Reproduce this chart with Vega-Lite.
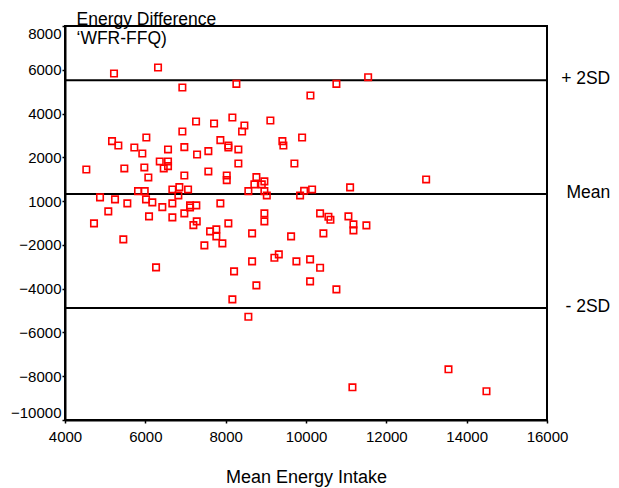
{
  "$schema": "https://vega.github.io/schema/vega-lite/v6.json",
  "width": 482,
  "height": 394,
  "autosize": "none",
  "padding": {"left": 65, "top": 26, "right": 72, "bottom": 68},
  "background": "white",
  "config": {
    "font": "Liberation Sans",
    "view": {"stroke": "black", "strokeWidth": 2},
    "axis": {
      "domainColor": "black", "domainWidth": 2, "tickColor": "black", "tickWidth": 1.5, "tickSize": 3,
      "labelColor": "black", "labelFontSize": 15, "titleColor": "black", "titleFontWeight": "normal",
      "grid": false, "labelFont": "Liberation Sans", "titleFont": "Liberation Sans"
    }
  },
  "datasets": {
    "points": [
      {"mean": 5220, "diff": 5831}, {"mean": 6316, "diff": 6105}, {"mean": 6922, "diff": 5191}, {"mean": 8267, "diff": 5356},
      {"mean": 7263, "diff": 3639}, {"mean": 7711, "diff": 3548}, {"mean": 8167, "diff": 3822}, {"mean": 8466, "diff": 3456},
      {"mean": 8409, "diff": 3183}, {"mean": 9113, "diff": 3685}, {"mean": 6922, "diff": 3183}, {"mean": 6025, "diff": 2909},
      {"mean": 5171, "diff": 2740}, {"mean": 5328, "diff": 2543}, {"mean": 5726, "diff": 2452}, {"mean": 5925, "diff": 2178},
      {"mean": 6565, "diff": 2361}, {"mean": 6971, "diff": 2466}, {"mean": 7288, "diff": 2132}, {"mean": 7569, "diff": 2283},
      {"mean": 7868, "diff": 2785}, {"mean": 8067, "diff": 2543}, {"mean": 8067, "diff": 2452}, {"mean": 8316, "diff": 2361},
      {"mean": 9412, "diff": 2740}, {"mean": 9437, "diff": 2543}, {"mean": 9903, "diff": 2909}, {"mean": 4531, "diff": 1447},
      {"mean": 5477, "diff": 1493}, {"mean": 5975, "diff": 1539}, {"mean": 6075, "diff": 1082}, {"mean": 6359, "diff": 1813},
      {"mean": 6565, "diff": 1813}, {"mean": 6565, "diff": 1598}, {"mean": 6458, "diff": 1493}, {"mean": 6971, "diff": 1173},
      {"mean": 7569, "diff": 1356}, {"mean": 8316, "diff": 1721}, {"mean": 8027, "diff": 1173}, {"mean": 8027, "diff": 959},
      {"mean": 8765, "diff": 1096}, {"mean": 8715, "diff": 763}, {"mean": 8899, "diff": 763}, {"mean": 8964, "diff": 900},
      {"mean": 9711, "diff": 1721}, {"mean": 5818, "diff": 457}, {"mean": 5985, "diff": 457}, {"mean": 6673, "diff": 534},
      {"mean": 6847, "diff": 639}, {"mean": 7064, "diff": 534}, {"mean": 6822, "diff": 260}, {"mean": 8565, "diff": 457},
      {"mean": 8964, "diff": 457}, {"mean": 9024, "diff": 260}, {"mean": 4872, "diff": 169}, {"mean": 5245, "diff": 78},
      {"mean": 5552, "diff": -105}, {"mean": 6017, "diff": 78}, {"mean": 6174, "diff": -59}, {"mean": 6423, "diff": -274},
      {"mean": 6673, "diff": -105}, {"mean": 7113, "diff": -196}, {"mean": 7113, "diff": -288}, {"mean": 7270, "diff": -196},
      {"mean": 7868, "diff": -105}, {"mean": 5078, "diff": -470}, {"mean": 6092, "diff": -699}, {"mean": 6673, "diff": -744},
      {"mean": 6971, "diff": -562}, {"mean": 8964, "diff": -562}, {"mean": 8964, "diff": -927}, {"mean": 4722, "diff": -1018},
      {"mean": 7280, "diff": -927}, {"mean": 7196, "diff": -1096}, {"mean": 8067, "diff": -1018}, {"mean": 7612, "diff": -1383},
      {"mean": 7768, "diff": -1292}, {"mean": 7768, "diff": -1612}, {"mean": 8658, "diff": -1475}, {"mean": 9629, "diff": -1612},
      {"mean": 5452, "diff": -1749}, {"mean": 9853, "diff": 260}, {"mean": 11547, "diff": 5662}, {"mean": 10757, "diff": 5356},
      {"mean": 10110, "diff": 4826}, {"mean": 12991, "diff": 991}, {"mean": 11098, "diff": 626}, {"mean": 9953, "diff": 470},
      {"mean": 10152, "diff": 534}, {"mean": 10351, "diff": -562}, {"mean": 10558, "diff": -717}, {"mean": 10608, "diff": -854},
      {"mean": 11056, "diff": -699}, {"mean": 11181, "diff": -1064}, {"mean": 11181, "diff": -1338}, {"mean": 11504, "diff": -1110},
      {"mean": 10433, "diff": -1475}, {"mean": 7918, "diff": -1931}, {"mean": 7470, "diff": -2023}, {"mean": 6267, "diff": -3027},
      {"mean": 8209, "diff": -3210}, {"mean": 8658, "diff": -2753}, {"mean": 9213, "diff": -2589}, {"mean": 9323, "diff": -2434},
      {"mean": 9761, "diff": -2753}, {"mean": 8765, "diff": -3849}, {"mean": 8167, "diff": -4488}, {"mean": 8565, "diff": -5283},
      {"mean": 10102, "diff": -2662}, {"mean": 10351, "diff": -3045}, {"mean": 10102, "diff": -3666}, {"mean": 10757, "diff": -4032},
      {"mean": 13547, "diff": -7685}, {"mean": 11156, "diff": -8507}, {"mean": 14493, "diff": -8689}
    ],
    "lines": [
      {"label": "+ 2SD", "value": 5525},
      {"label": "Mean", "value": 320},
      {"label": "- 2SD", "value": -4886}
    ]
  },
  "layer": [
    {
      "data": {"name": "lines"},
      "mark": {"type": "rule", "color": "black", "strokeWidth": 2},
      "encoding": {
        "y": {"field": "value", "type": "quantitative", "scale": {"domain": [-10000, 8000], "nice": false}}
      }
    },
    {
      "data": {"name": "points"},
      "mark": {"type": "point", "shape": "square", "filled": false, "color": "#ff0000", "strokeWidth": 1.6, "size": 42, "opacity": 1},
      "encoding": {
        "x": {
          "field": "mean", "type": "quantitative",
          "scale": {"domain": [4000, 16000], "nice": false, "zero": false},
          "axis": {
            "values": [4000, 6000, 8000, 10000, 12000, 14000, 16000], "format": "d",
            "labelFlush": false,
            "title": "Mean Energy Intake", "titleFontSize": 18, "titleY": 48, "titleBaseline": "top",
            "labelPadding": 6
          }
        },
        "y": {
          "field": "diff", "type": "quantitative",
          "scale": {"domain": [-10000, 8000], "nice": false, "zero": false},
          "axis": {
            "values": [-10000, -8000, -6000, -4000, -2000, 0, 2000, 4000, 6000, 8000], "format": "d",
            "labelExpr": "datum.value == 0 ? '1000' : datum.label",
            "labelFlush": true, "labelPadding": 1,
            "title": ["Energy Difference", "‘WFR-FFQ)"], "titleAngle": 0, "titleAlign": "left",
            "titleBaseline": "alphabetic", "titleX": 11, "titleY": -2, "titleFontSize": 17.5, "titleLineHeight": 19
          }
        }
      }
    },
    {
      "data": {"name": "lines"},
      "mark": {"type": "text", "align": "right", "baseline": "middle", "fontSize": 17.5, "color": "black", "dy": -1},
      "encoding": {
        "x": {"datum": 17575, "type": "quantitative"},
        "y": {"field": "value", "type": "quantitative"},
        "text": {"field": "label"}
      }
    }
  ]
}
